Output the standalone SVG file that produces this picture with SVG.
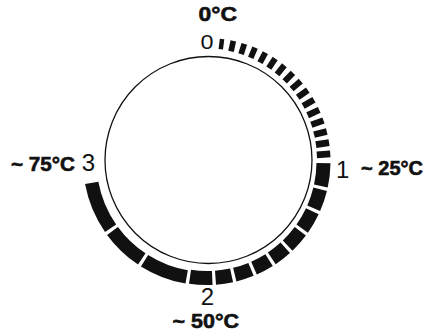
<svg xmlns="http://www.w3.org/2000/svg" width="424" height="333" viewBox="0 0 424 333">
<style>
.bg{fill:#fff}
.dial{fill:none;stroke:#111;stroke-width:1.3}
.tick{fill:#111}
.blk{fill:none;stroke:#111}
.b12{stroke-width:14}
.b23{stroke-width:13.5}
.num{font-family:"Liberation Sans",Arial,sans-serif;font-size:24px;fill:#111}
.temp{font-family:"Liberation Sans",Arial,sans-serif;font-size:20.5px;font-weight:bold;fill:#111;stroke:#111;stroke-width:0.6}
</style>
<rect class="bg" x="0" y="0" width="424" height="333"/>
<g id="dial">
<circle class="dial" cx="208.5" cy="160" r="103.5"/>
</g>
<g id="small-ticks" transform="translate(207 161.5)">
<rect class="tick" x="-2.25" y="-123.5" width="4.5" height="10.5" transform="rotate(7)"/>
<rect class="tick" x="-2.84" y="-123.5" width="5.68" height="10.7" transform="rotate(12.3)"/>
<rect class="tick" x="-2.88" y="-123.5" width="5.76" height="10.9" transform="rotate(17.6)"/>
<rect class="tick" x="-2.92" y="-123.5" width="5.84" height="11.1" transform="rotate(22.9)"/>
<rect class="tick" x="-2.96" y="-123.5" width="5.92" height="11.3" transform="rotate(28.2)"/>
<rect class="tick" x="-3.0" y="-123.5" width="6.0" height="11.5" transform="rotate(33.5)"/>
<rect class="tick" x="-3.04" y="-123.5" width="6.08" height="11.7" transform="rotate(38.8)"/>
<rect class="tick" x="-3.08" y="-123.5" width="6.16" height="11.9" transform="rotate(44.1)"/>
<rect class="tick" x="-3.12" y="-123.5" width="6.24" height="12.1" transform="rotate(49.4)"/>
<rect class="tick" x="-3.16" y="-123.5" width="6.32" height="12.3" transform="rotate(54.7)"/>
<rect class="tick" x="-3.2" y="-123.5" width="6.4" height="12.5" transform="rotate(60)"/>
<rect class="tick" x="-3.24" y="-123.5" width="6.48" height="12.7" transform="rotate(65.3)"/>
<rect class="tick" x="-3.28" y="-123.5" width="6.56" height="12.9" transform="rotate(70.6)"/>
<rect class="tick" x="-3.32" y="-123.5" width="6.64" height="13.1" transform="rotate(75.9)"/>
<rect class="tick" x="-3.36" y="-123.5" width="6.72" height="13.3" transform="rotate(81.2)"/>
<rect class="tick" x="-3.4" y="-123.5" width="6.8" height="13.5" transform="rotate(86.5)"/>
</g>
<g id="blocks" transform="translate(207 161.5) rotate(-90)">
<circle class="blk b12" r="116.5" pathLength="360" stroke-dasharray="11.4 348.6" stroke-dashoffset="-90.8"/>
<circle class="blk b12" r="116.5" pathLength="360" stroke-dasharray="9.9 350.1" stroke-dashoffset="-103.8"/>
<circle class="blk b12" r="116.5" pathLength="360" stroke-dasharray="9.9 350.1" stroke-dashoffset="-115.3"/>
<circle class="blk b12" r="116.5" pathLength="360" stroke-dasharray="9.4 350.6" stroke-dashoffset="-126.8"/>
<circle class="blk b12" r="116.5" pathLength="360" stroke-dasharray="8.4 351.6" stroke-dashoffset="-137.8"/>
<circle class="blk b12" r="116.5" pathLength="360" stroke-dasharray="8.4 351.6" stroke-dashoffset="-147.8"/>
<circle class="blk b12" r="116.5" pathLength="360" stroke-dasharray="8.4 351.6" stroke-dashoffset="-157.8"/>
<circle class="blk b12" r="116.5" pathLength="360" stroke-dasharray="8.0 352" stroke-dashoffset="-167.8"/>
<circle class="blk b12" r="116.5" pathLength="360" stroke-dasharray="11.0 349" stroke-dashoffset="-177.4"/>
<circle class="blk b23" r="117.25" pathLength="360" stroke-dasharray="22.2 337.8" stroke-dashoffset="-190"/>
<circle class="blk b23" r="117.25" pathLength="360" stroke-dasharray="19.9 340.1" stroke-dashoffset="-213.8"/>
<circle class="blk b23" r="117.25" pathLength="360" stroke-dasharray="24.2 335.8" stroke-dashoffset="-235.3"/>
</g>
<g id="labels">
<text class="num" x="200.5" y="49" style="font-size:20px" textLength="13" lengthAdjust="spacingAndGlyphs">0</text>
<text class="num" x="336" y="178">1</text>
<text class="num" x="207.5" y="305" text-anchor="middle">2</text>
<text class="num" x="88.5" y="171" text-anchor="middle">3</text>
<text class="temp" x="198.5" y="20.7" textLength="38.5" lengthAdjust="spacingAndGlyphs">0°C</text>
<text class="temp" x="361" y="175" textLength="62" lengthAdjust="spacingAndGlyphs">~ 25°C</text>
<text class="temp" x="172.5" y="328" textLength="66.5" lengthAdjust="spacingAndGlyphs">~ 50°C</text>
<text class="temp" x="11" y="170.5" textLength="64" lengthAdjust="spacingAndGlyphs">~ 75°C</text>
</g>
</svg>
